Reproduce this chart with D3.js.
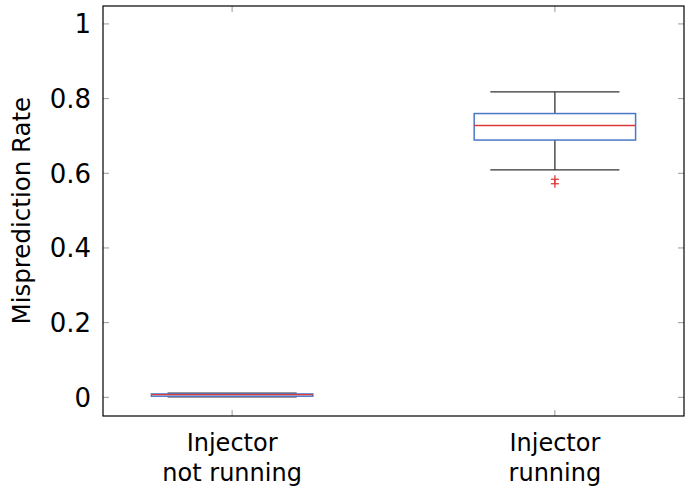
<!DOCTYPE html>
<meta charset="utf-8">
<script src="https://d3js.org/d3.v7.min.js"></script>
<style>
  body { margin: 0; background: #fff; }
  text { font-family: "DejaVu Sans", sans-serif; fill: #000; }
</style>
<div id="chart"></div>
<script>
// categories and box stats
var categories = ["Injector\nnot running", "Injector\nrunning"];
var lowerWhisker = [0.001, 0.609];
var q1 = [0.003, 0.689];
var median = [0.007, 0.728];
var q3 = [0.009, 0.760];
var upperWhisker = [0.011, 0.818];
var outliers = [[], [0.584, 0.572]];
var yTicks = [0, 0.2, 0.4, 0.6, 0.8, 1];

var margin = {top: 6, right: 2, bottom: 73, left: 103},
  width = 686 - margin.left - margin.right,
  height = 489 - margin.top - margin.bottom;

var svg = d3.select("#chart")
.append("svg")
  .attr("width", 686)
  .attr("height", 489)
.append("g")
  .attr("transform", "translate(" + margin.left + "," + margin.top + ")");

var x = d3.scaleLinear().domain([0.6, 2.4]).range([0, width]);
var y = d3.scaleLinear().domain([-0.05, 1.048]).range([height, 0]);

var boxW = 0.5, capW = 0.4;
var blue = "#4a78c8", red = "#dd3b3b";

// tick marks inside the frame (all four sides)
var tickLen = 6;
yTicks.forEach(function(t) {
  svg.append("line").attr("x1", 0).attr("x2", tickLen).attr("y1", y(t)).attr("y2", y(t))
    .attr("stroke", "#999").attr("stroke-width", 1);
  svg.append("line").attr("x1", width).attr("x2", width - tickLen).attr("y1", y(t)).attr("y2", y(t))
    .attr("stroke", "#999").attr("stroke-width", 1);
});
categories.forEach(function(c, i) {
  svg.append("line").attr("x1", x(i + 1)).attr("x2", x(i + 1)).attr("y1", height).attr("y2", height - tickLen)
    .attr("stroke", "#999").attr("stroke-width", 1);
  svg.append("line").attr("x1", x(i + 1)).attr("x2", x(i + 1)).attr("y1", 0).attr("y2", tickLen)
    .attr("stroke", "#999").attr("stroke-width", 1);
});

// y tick labels
svg.selectAll(".ylab")
  .data(yTicks)
  .enter()
  .append("text")
    .attr("x", -12)
    .attr("y", function(d) { return y(d); })
    .attr("dy", "0.36em")
    .attr("text-anchor", "end")
    .style("font-size", "26px")
    .text(function(d) { return d; });

// x tick labels, one text per line
categories.forEach(function(c, i) {
  c.split("\n").forEach(function(l, j) {
    svg.append("text")
      .attr("x", x(i + 1))
      .attr("y", height + 35 + j * 30)
      .attr("text-anchor", "middle")
      .style("font-size", "24px")
      .text(l);
  });
});

// y axis label
svg.append("text")
  .attr("transform", "translate(" + (-73) + "," + y(0.5) + ") rotate(-90)")
  .attr("text-anchor", "middle")
  .style("font-size", "24.5px")
  .text("Misprediction Rate");

// boxes
categories.forEach(function(c, i) {
  var cx = i + 1;
  // whiskers
  svg.append("line").attr("x1", x(cx)).attr("x2", x(cx)).attr("y1", y(upperWhisker[i])).attr("y2", y(q3[i]))
    .attr("stroke", "#333").attr("stroke-width", 1.3);
  svg.append("line").attr("x1", x(cx)).attr("x2", x(cx)).attr("y1", y(lowerWhisker[i])).attr("y2", y(q1[i]))
    .attr("stroke", "#333").attr("stroke-width", 1.3);
  svg.append("line").attr("x1", x(cx - capW / 2)).attr("x2", x(cx + capW / 2))
    .attr("y1", y(upperWhisker[i])).attr("y2", y(upperWhisker[i]))
    .attr("stroke", "#333").attr("stroke-width", 1.3);
  svg.append("line").attr("x1", x(cx - capW / 2)).attr("x2", x(cx + capW / 2))
    .attr("y1", y(lowerWhisker[i])).attr("y2", y(lowerWhisker[i]))
    .attr("stroke", "#333").attr("stroke-width", 1.3);
  // box
  svg.append("rect")
    .attr("x", x(cx - boxW / 2))
    .attr("y", y(q3[i]))
    .attr("width", x(cx + boxW / 2) - x(cx - boxW / 2))
    .attr("height", y(q1[i]) - y(q3[i]))
    .attr("fill", "none")
    .attr("stroke", blue)
    .attr("stroke-width", 1.5);
  // median
  svg.append("line").attr("x1", x(cx - boxW / 2)).attr("x2", x(cx + boxW / 2))
    .attr("y1", y(median[i])).attr("y2", y(median[i]))
    .attr("stroke", red).attr("stroke-width", 1.3);
  // outliers as "+" marks
  outliers[i].forEach(function(o) {
    var px = x(cx), py = y(o), s = 4;
    svg.append("line").attr("x1", px - s).attr("x2", px + s).attr("y1", py).attr("y2", py)
      .attr("stroke", red).attr("stroke-width", 1.3);
    svg.append("line").attr("x1", px).attr("x2", px).attr("y1", py - s).attr("y2", py + s)
      .attr("stroke", red).attr("stroke-width", 1.3);
  });
});

// frame
svg.append("rect")
  .attr("x", 0).attr("y", 0)
  .attr("width", width).attr("height", height)
  .attr("fill", "none")
  .attr("stroke", "#000")
  .attr("stroke-width", 1.2);
</script>
